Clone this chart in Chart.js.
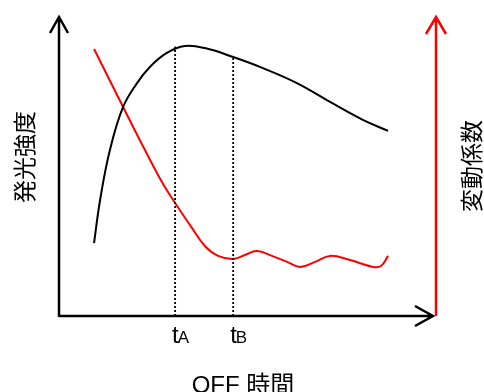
<!DOCTYPE html>
<html>
<head>
<meta charset="utf-8">
<script src="https://cdn.jsdelivr.net/npm/chart.js@4/dist/chart.umd.min.js"></script>
<style>
  html, body { margin: 0; padding: 0; background: #fff; }
  #wrap { width: 484px; height: 392px; position: relative; }
</style>
</head>
<body>
<div id="wrap"><canvas id="chart"></canvas></div>
<script>
// OFF time (0-100 across the plot) and the two curves
const timeIntensity = [9.3, 10.9, 13.5, 17.0, 20.7, 24.1, 28.6, 33.4, 38.7, 46.2, 54.1, 63.1, 71.9, 80.6, 87.3];
const intensity = [24.4, 38.8, 55.5, 69.9, 77.9, 83.3, 88.0, 90.3, 89.6, 86.6, 82.9, 77.9, 71.6, 65.6, 61.9];

const timeCv = [9.3, 17.0, 22.8, 27.3, 30.8, 35.3, 38.7, 42.2, 46.2, 49.3, 52.5, 56.5, 60.5, 63.9, 67.9, 71.9, 77.2, 83.3, 85.4, 87.3];
const cv = [89.3, 69.9, 55.5, 44.8, 37.8, 29.4, 23.4, 20.1, 19.1, 20.4, 21.7, 20.1, 18.1, 16.4, 18.1, 20.1, 18.7, 16.4, 16.7, 20.1];

// marker times and the intensity value each dotted line rises to
const markTimes = [30.8, 46.2];
const markTops = [90.1, 86.6];
const markNames = ['A', 'B'];

const xyPairs = (xs, ys) => xs.map((x, i) => ({ x: x, y: ys[i] }));

const markerSets = markTimes.map((t, i) => ({
  data: [{ x: t, y: 0 }, { x: t, y: markTops[i] }],
  borderColor: '#000',
  borderWidth: 1.8,
  borderDash: [2, 2],
  pointRadius: 0,
  tension: 0
}));

const axesPlugin = {
  id: 'axesArrows',
  afterDatasetsDraw(chart) {
    const ctx = chart.ctx;
    const xs = chart.scales.x, ys = chart.scales.y;
    const left = xs.getPixelForValue(0);
    const right = xs.getPixelForValue(100);
    const bottom = ys.getPixelForValue(0);
    const top = ys.getPixelForValue(100);

    ctx.save();
    ctx.lineCap = 'butt';
    ctx.lineJoin = 'miter';

    // left (intensity) axis
    ctx.strokeStyle = '#000';
    ctx.lineWidth = 2.5;
    ctx.beginPath();
    ctx.moveTo(left, bottom + 1);
    ctx.lineTo(left, top);
    ctx.moveTo(left - 9, top + 16);
    ctx.lineTo(left, top);
    ctx.lineTo(left + 9, top + 16);
    ctx.stroke();

    // time axis
    const tip = right - 3;
    ctx.beginPath();
    ctx.moveTo(left, bottom);
    ctx.lineTo(tip, bottom);
    ctx.moveTo(tip - 18, bottom - 10);
    ctx.lineTo(tip, bottom);
    ctx.lineTo(tip - 18, bottom + 10);
    ctx.stroke();

    // right (variation coefficient) axis
    ctx.strokeStyle = '#ff0000';
    ctx.beginPath();
    ctx.moveTo(right, bottom);
    ctx.lineTo(right, top);
    ctx.moveTo(right - 10, top + 17);
    ctx.lineTo(right, top);
    ctx.lineTo(right + 10, top + 17);
    ctx.stroke();

    // t_A / t_B tick labels
    ctx.fillStyle = '#000';
    ctx.textBaseline = 'alphabetic';
    ctx.textAlign = 'left';
    markTimes.forEach((t, i) => {
      const px = xs.getPixelForValue(t);
      ctx.font = '24px "Liberation Sans", Arial, sans-serif';
      const tw = ctx.measureText('t').width;
      ctx.fillText('t', px - 3, bottom + 27);
      ctx.font = '17px "Liberation Sans", Arial, sans-serif';
      ctx.fillText(markNames[i], px - 4 + tw, bottom + 27);
    });

    // axis titles
    ctx.font = '24px "Liberation Sans", "Noto Sans CJK JP", sans-serif';
    ctx.textAlign = 'center';
    ctx.textBaseline = 'middle';
    ctx.fillText('OFF 時間', 243, 386);

    ctx.font = '23px "Noto Sans CJK JP", sans-serif';
    ctx.save();
    ctx.translate(24, 157);
    ctx.rotate(-Math.PI / 2);
    ctx.fillText('発光強度', 0, 0);
    ctx.restore();

    ctx.save();
    ctx.translate(471, 166);
    ctx.rotate(-Math.PI / 2);
    ctx.fillText('変動係数', 0, 0);
    ctx.restore();

    ctx.restore();
  }
};

new Chart(document.getElementById('chart'), {
  type: 'line',
  data: {
    datasets: [
      ...markerSets,
      {
        label: '発光強度',
        data: xyPairs(timeIntensity, intensity),
        borderColor: '#000',
        borderWidth: 2,
        pointRadius: 0,
        tension: 0.4
      },
      {
        label: '変動係数',
        data: xyPairs(timeCv, cv),
        borderColor: '#ff0000',
        borderWidth: 2,
        pointRadius: 0,
        tension: 0.4
      }
    ]
  },
  options: {
    responsive: true,
    maintainAspectRatio: false,
    animation: false,
    events: [],
    layout: { padding: { left: 59, right: 48, top: 17, bottom: 76 } },
    plugins: {
      legend: { display: false },
      tooltip: { enabled: false }
    },
    scales: {
      x: { type: 'linear', min: 0, max: 100, display: false },
      y: { min: 0, max: 100, display: false }
    }
  },
  plugins: [axesPlugin]
});
</script>
</body>
</html>
